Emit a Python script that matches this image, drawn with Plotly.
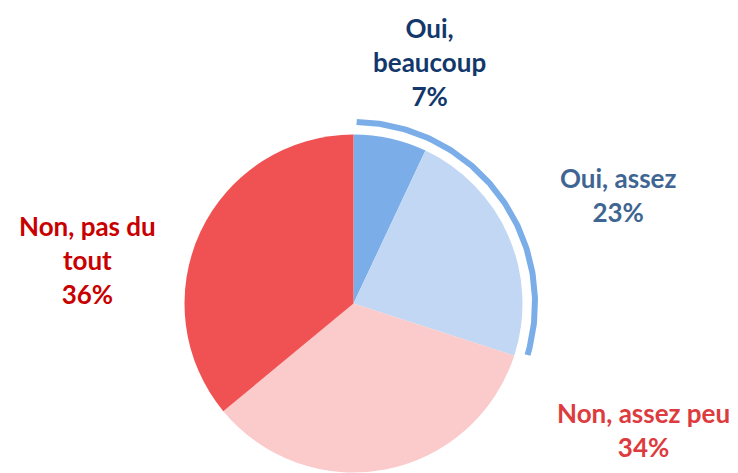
import numpy as np
import plotly.graph_objects as go

# Survey answers, clockwise from 12 o'clock
categories = ["Oui, beaucoup", "Oui, assez", "Non, assez peu", "Non, pas du tout"]
values = [7, 23, 34, 36]
slice_colors = ["#7BAEE8", "#C1D7F4", "#FBCACA", "#F05152"]
label_texts = ["Oui,<br>beaucoup<br>7%", "Oui, assez<br>23%",
               "Non, assez peu<br>34%", "Non, pas du<br>tout<br>36%"]
label_colors = ["#12386B", "#3F6693", "#DD3B3E", "#C80000"]
# label block centres in pixels
label_pos = [(430, 62), (618, 195), (643, 430), (87, 260)]

W, H = 738, 473
cx, cy, r = 353.5, 303.5, 169.0

fig = go.Figure()

fig.add_trace(go.Pie(
    labels=categories,
    values=values,
    marker=dict(colors=slice_colors, line=dict(width=0)),
    sort=False,
    direction="clockwise",
    rotation=0,
    textinfo="none",
    hoverinfo="skip",
    domain=dict(x=[(cx - r) / W, (cx + r) / W],
                y=[1 - (cy + r) / H, 1 - (cy - r) / H]),
))

# Bracket arc around the "Oui" answers
oui_share = sum(v for c, v in zip(categories, values) if c.startswith("Oui")) / sum(values)
arc_r = 181.5
theta = np.radians(np.linspace(1.0, oui_share * 360 - 1.5, 120))
fig.add_trace(go.Scatter(
    x=cx + arc_r * np.sin(theta),
    y=cy - arc_r * np.cos(theta),
    mode="lines",
    line=dict(color="#7BAEE8", width=6),
    hoverinfo="skip",
))

for txt, col, (px, py) in zip(label_texts, label_colors, label_pos):
    fig.add_annotation(
        x=px / W, y=1 - py / H, xref="paper", yref="paper",
        text=f"<b>{txt}</b>", showarrow=False,
        xanchor="center", yanchor="middle", align="center",
        font=dict(family="Lato", size=26, color=col),
    )

fig.update_layout(
    width=W, height=H,
    margin=dict(l=0, r=0, t=0, b=0),
    paper_bgcolor="white", plot_bgcolor="white",
    showlegend=False, hovermode=False,
    xaxis=dict(range=[0, W], visible=False, fixedrange=True),
    yaxis=dict(range=[H, 0], visible=False, fixedrange=True),
)

fig.write_html("out.html")
